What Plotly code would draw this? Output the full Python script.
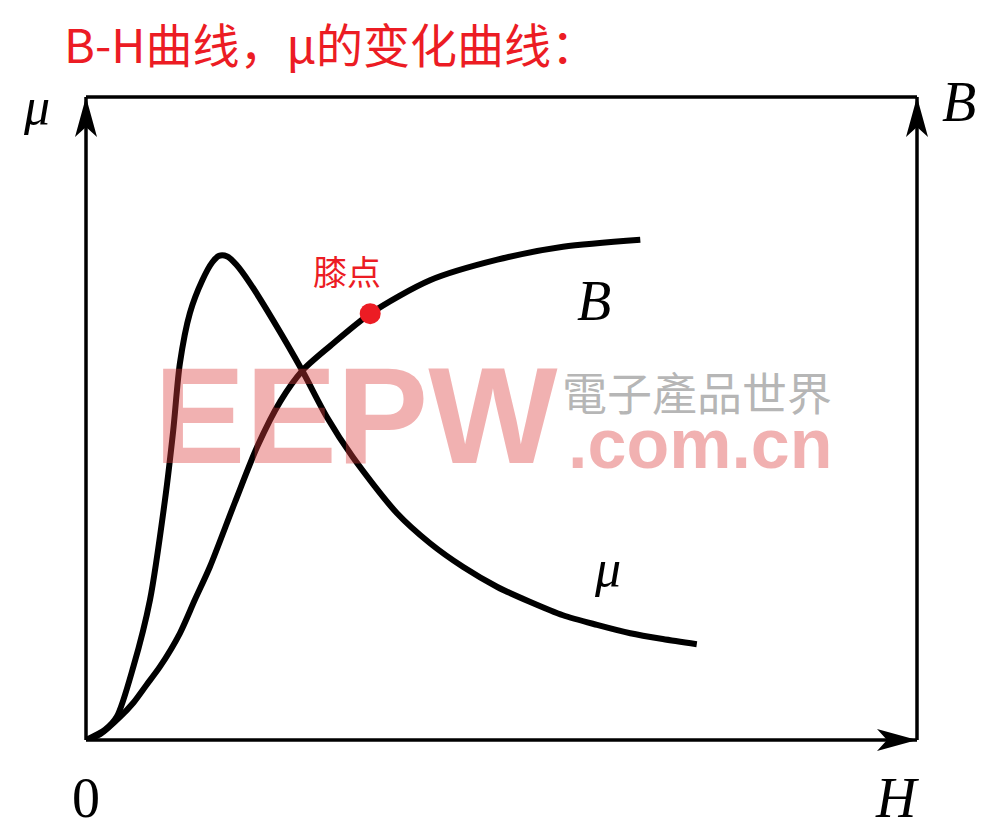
import plotly.graph_objects as go

# B-H curve (H, B) and permeability curve (H, mu), 0-100 scale
H_B = [0, 1.7, 4.1, 5.7, 7.3, 8.9, 11.3, 13.1, 14.9, 17.9, 20.6, 23.4, 26.0, 29.4, 34.2,
       41.4, 49.5, 57.4, 66.7]
B = [0, 0.9, 3.6, 5.8, 8.6, 11.4, 16.6, 21.8, 26.9, 36.9, 45.6, 52.7, 57.4, 61.3, 66.3,
     71.5, 74.7, 76.7, 77.8]

H_mu = [0, 2.3, 3.7, 5.7, 7.7, 9.5, 10.5, 11.3, 12.5, 14.0, 15.2, 16.0, 17.0, 18.1, 19.7, 22.5,
        26.0, 29.0, 32.1, 37.4, 41.4, 45.4, 49.5, 53.4, 57.4, 61.5, 65.5, 69.4, 73.5]
mu = [0, 1.6, 3.6, 11.4, 21.8, 37.3, 48.2, 58.6, 66.4, 71.5, 74.3, 75.3, 75.2, 73.9, 71.1, 65.3,
      57.5, 50.2, 44.0, 35.3, 30.6, 26.9, 23.8, 21.5, 19.4, 17.9, 16.6, 15.7, 14.9]

knee_H = [34.2]
knee_B = [66.3]

RED = "rgb(236,28,36)"
SERIF = "Liberation Serif"
CJK = "Noto Sans CJK SC"

fig = go.Figure()
fig.add_trace(go.Scatter(x=H_B, y=B, mode="lines", hoverinfo="skip", name="B",
                         line=dict(color="black", width=6, shape="spline", smoothing=0.8)))
fig.add_trace(go.Scatter(x=H_mu, y=mu, mode="lines", hoverinfo="skip", name="mu",
                         line=dict(color="black", width=6, shape="spline", smoothing=0.8)))
fig.add_trace(go.Scatter(x=knee_H, y=knee_B, mode="markers", hoverinfo="skip", name="knee",
                         marker=dict(color=RED, size=21)))

# frame: left/bottom axes with arrows, top and right edges
frame = dict(color="black", width=3.5)
fig.add_shape(type="line", xref="paper", yref="paper", x0=0, y0=0, x1=0, y1=1, line=frame)
fig.add_shape(type="line", xref="paper", yref="paper", x0=0, y0=0, x1=1, y1=0, line=frame)
fig.add_shape(type="line", xref="paper", yref="paper", x0=0, y0=1, x1=1, y1=1, line=frame)
fig.add_shape(type="line", xref="paper", yref="paper", x0=1, y0=0, x1=1, y1=1, line=frame)

up_head = "M0,0 L-11,-40 L0,-30 L11,-40 Z"
right_head = "M0,0 L-40,11 L-30,0 L-40,-11 Z"
for xa, ya, p in [(0, 1, up_head), (1, 1, up_head), (1, 0, right_head)]:
    fig.add_shape(type="path", xref="paper", yref="paper", xsizemode="pixel", ysizemode="pixel",
                  xanchor=xa, yanchor=ya, path=p, fillcolor="black", line=dict(width=0))

# watermark
fig.add_annotation(x=32.5, y=50.4, text="<b>EEPW</b>", showarrow=False,
                   font=dict(family="Liberation Sans", size=137, color="rgba(220,60,60,0.4)"))
fig.add_annotation(x=73.5, y=54.2, text="電子產品世界", showarrow=False,
                   font=dict(family="Noto Sans CJK TC", size=45, color="rgba(110,110,110,0.5)"))
fig.add_annotation(x=73.9, y=46.0, text="<b>.com.cn</b>", showarrow=False,
                   font=dict(family="Liberation Sans", size=70, color="rgba(220,60,60,0.4)"))

# labels
fig.add_annotation(x=31.4, y=73.0, text="膝点", showarrow=False,
                   font=dict(family=CJK, size=34, color=RED))
fig.add_annotation(x=61.1, y=68.3, text="<i>B</i>", showarrow=False,
                   font=dict(family=SERIF, size=56, color="black"))
fig.add_annotation(x=62.7, y=26.6, text="<i>μ</i>", showarrow=False,
                   font=dict(family=SERIF, size=52, color="black"))
fig.add_annotation(xref="paper", yref="paper", x=-0.059, y=0.986, xanchor="center", yanchor="middle",
                   text="<i>μ</i>", showarrow=False, font=dict(family=SERIF, size=52, color="black"))
fig.add_annotation(xref="paper", yref="paper", x=1.0505, y=0.992, xanchor="center", yanchor="middle",
                   text="<i>B</i>", showarrow=False, font=dict(family=SERIF, size=56, color="black"))
fig.add_annotation(xref="paper", yref="paper", x=0.0, y=-0.09, xanchor="center", yanchor="middle",
                   text="0", showarrow=False, font=dict(family=SERIF, size=56, color="black"))
fig.add_annotation(xref="paper", yref="paper", x=0.976, y=-0.09, xanchor="center", yanchor="middle",
                   text="<i>H</i>", showarrow=False, font=dict(family=SERIF, size=56, color="black"))

# title
fig.add_annotation(xref="paper", yref="paper", x=-0.029, y=1.084, xanchor="left", yanchor="middle",
                   text="B-H曲线，μ的变化曲线：", showarrow=False,
                   font=dict(family=CJK, size=47, color=RED))

fig.update_xaxes(range=[0, 100], visible=False, showgrid=False, zeroline=False)
fig.update_yaxes(range=[0, 100], visible=False, showgrid=False, zeroline=False)
fig.update_layout(width=987, height=824, margin=dict(l=78, r=78, t=89, b=92),
                  plot_bgcolor="white", paper_bgcolor="white", showlegend=False)

fig.write_html("out.html")
